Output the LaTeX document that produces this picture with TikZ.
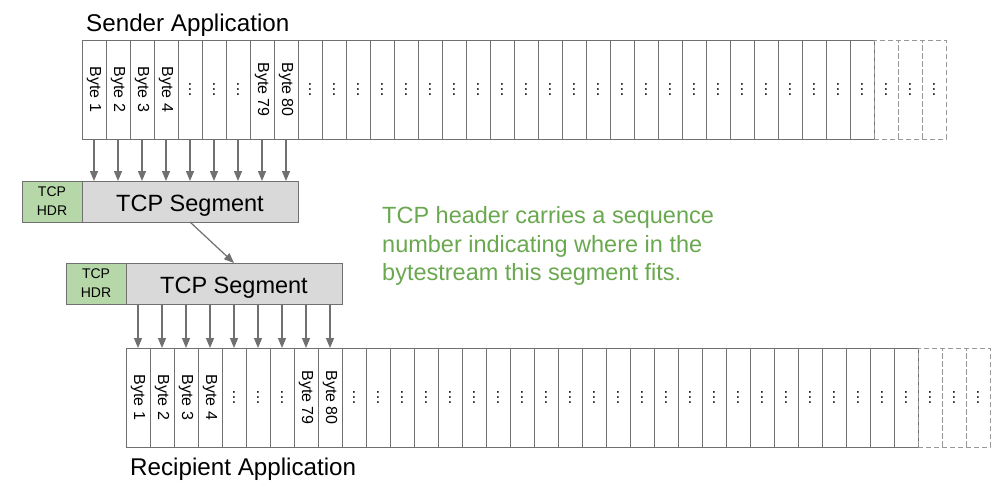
\documentclass[tikz,border=0pt]{standalone}
\usepackage{fontspec}
\setmainfont{Liberation Sans}
\usetikzlibrary{arrows.meta}
\usetikzlibrary{positioning}
\definecolor{mgray}{HTML}{707070}
\definecolor{dgray}{HTML}{999999}
\definecolor{mgreen}{HTML}{6AA84F}
\definecolor{hdrgreen}{HTML}{B6D7A8}
\definecolor{seggray}{HTML}{D9D9D9}
\tikzset{
  cell/.style={draw=mgray, line width=1pt, minimum width=24pt, minimum height=99pt, inner sep=0pt, outer sep=0pt, font=\fontsize{16}{16}\selectfont},
  ghost/.style={cell, draw=dgray, dash pattern=on 5pt off 3pt},
  segbox/.style={draw=mgray, fill=seggray, line width=1pt, minimum width=216pt, minimum height=41pt, inner sep=0pt, outer sep=0pt, text height=20pt, text depth=0pt, font=\fontsize{23.5}{28}\selectfont},
  hdrbox/.style={draw=mgray, fill=hdrgreen, line width=1pt, minimum width=60pt, minimum height=41pt, inner sep=0pt, outer sep=0pt, align=center, font=\fontsize{14}{19}\selectfont},
  arr/.style={draw=mgray, line width=1.2pt, -{Triangle[length=10pt,width=8pt]}},
  apptext/.style={inner sep=0pt, font=\fontsize{24.2}{28}\selectfont},
  note/.style={inner sep=0pt, align=left, text=mgreen, font=\fontsize{23.5}{28.5}\selectfont}
}

\begin{document}
\begin{tikzpicture}[x=1pt, y=-1pt]
    \useasboundingbox (0,0) rectangle (1002,490);

    % sender bytes
    \foreach \i/\t in {1/Byte 1, 2/Byte 2, 3/Byte 3, 4/Byte 4, 5/\ldots, 6/\ldots, 7/\ldots, 8/Byte 79, 9/Byte 80}
      \node [cell] (s\i) at (70+24*\i, 89.5) {\rotatebox{-90}{\t}};
    \foreach \i in {10,...,33}
      \node [cell] (s\i) at (70+24*\i, 89.5) {\rotatebox{-90}{\ldots}};
    \foreach \i in {34,35,36}
      \node [ghost] (s\i) at (70+24*\i, 89.5) {\rotatebox{-90}{\ldots}};
    \node [apptext, anchor=base west] (sender) at (86, 31.5) {Sender Application};

    % recipient bytes
    \foreach \i/\t in {1/Byte 1, 2/Byte 2, 3/Byte 3, 4/Byte 4, 5/\ldots, 6/\ldots, 7/\ldots, 8/Byte 79, 9/Byte 80}
      \node [cell] (r\i) at (114+24*\i, 397.5) {\rotatebox{-90}{\t}};
    \foreach \i in {10,...,33}
      \node [cell] (r\i) at (114+24*\i, 397.5) {\rotatebox{-90}{\ldots}};
    \foreach \i in {34,35,36}
      \node [ghost] (r\i) at (114+24*\i, 397.5) {\rotatebox{-90}{\ldots}};
    \node [apptext, anchor=base west] (recipient) at (130, 475) {Recipient Application};

    % segments
    \node [segbox, anchor=north west] (seg1) at (82, 181) {TCP Segment};
    \node [hdrbox, left=0pt of seg1] (hdr1) {TCP\\HDR};
    \node [segbox, anchor=north west] (seg2) at (126, 263) {TCP Segment};
    \node [hdrbox, left=0pt of seg2] (hdr2) {TCP\\HDR};

    \foreach \i in {1,...,9}
      \draw [arr] (s\i.south) -- (s\i.south |- seg1.north);
    \foreach \i in {1,...,9}
      \draw [arr] (r\i.north |- seg2.south) -- (r\i.north);
    \draw [arr] (seg1.south) -- (seg2.north);

    \node [note, anchor=north west] (note) at (382, 206.5) {TCP header carries a sequence\\number indicating where in the\\bytestream this segment fits.};
\end{tikzpicture}
\end{document}
